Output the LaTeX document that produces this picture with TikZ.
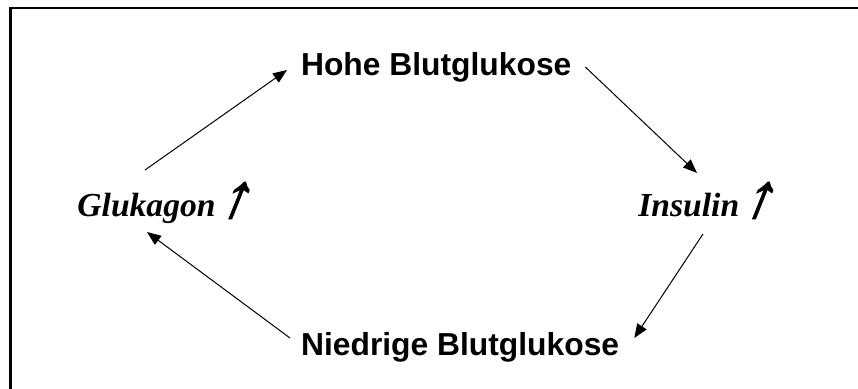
\documentclass[tikz,border=0pt]{standalone}
\usepackage{fontspec}
\setmainfont{Liberation Serif}
\newfontfamily\blutfont{Liberation Sans}
\newfontfamily\arrfont[FakeSlant=0.4, FakeBold=2]{Liberation Serif}
\usepackage{tikz}
\usetikzlibrary{arrows.meta}

\newcommand{\uparr}{{\arrfont\fontsize{31}{31}\selectfont ↑}}

\begin{document}
\begin{tikzpicture}[
    x=0.5pt, y=-0.5pt,
    level/.style={anchor=base west, inner sep=0pt, font=\blutfont\bfseries\fontsize{15.9}{18}\selectfont},
    hormone/.style={anchor=base west, inner sep=0pt, font=\bfseries\itshape\fontsize{16.8}{18}\selectfont},
    arrow/.style={-{Triangle[length=7pt, width=5.5pt]}, line width=0.5pt}
]
\useasboundingbox (0,0) rectangle (858,389);
\draw[line width=1.4pt] (10.5,390) |- (859,8);

\node[level] (high) at (300.7,76) {Hohe Blutglukose};
\node[level] (low) at (300.7,356) {Niedrige Blutglukose};
\node[hormone] (glucagon) at (77,217) {Glukagon\uparr};
\node[hormone] (insulin) at (638,217) {Insulin\uparr};

\draw[arrow] ([shift={(68,-47)}]glucagon.base west) -- ([shift={(-13.7,-6)}]high.base west);
\draw[arrow] ([shift={(13.5,-9)}]high.base east) -- ([shift={(59,-44)}]insulin.base west);
\draw[arrow] ([shift={(65,17)}]insulin.base west) -- ([shift={(14.7,-18)}]low.base east);
\draw[arrow] ([shift={(-10.7,-18)}]low.base west) -- ([shift={(70,15)}]glucagon.base west);
\end{tikzpicture}
\end{document}
